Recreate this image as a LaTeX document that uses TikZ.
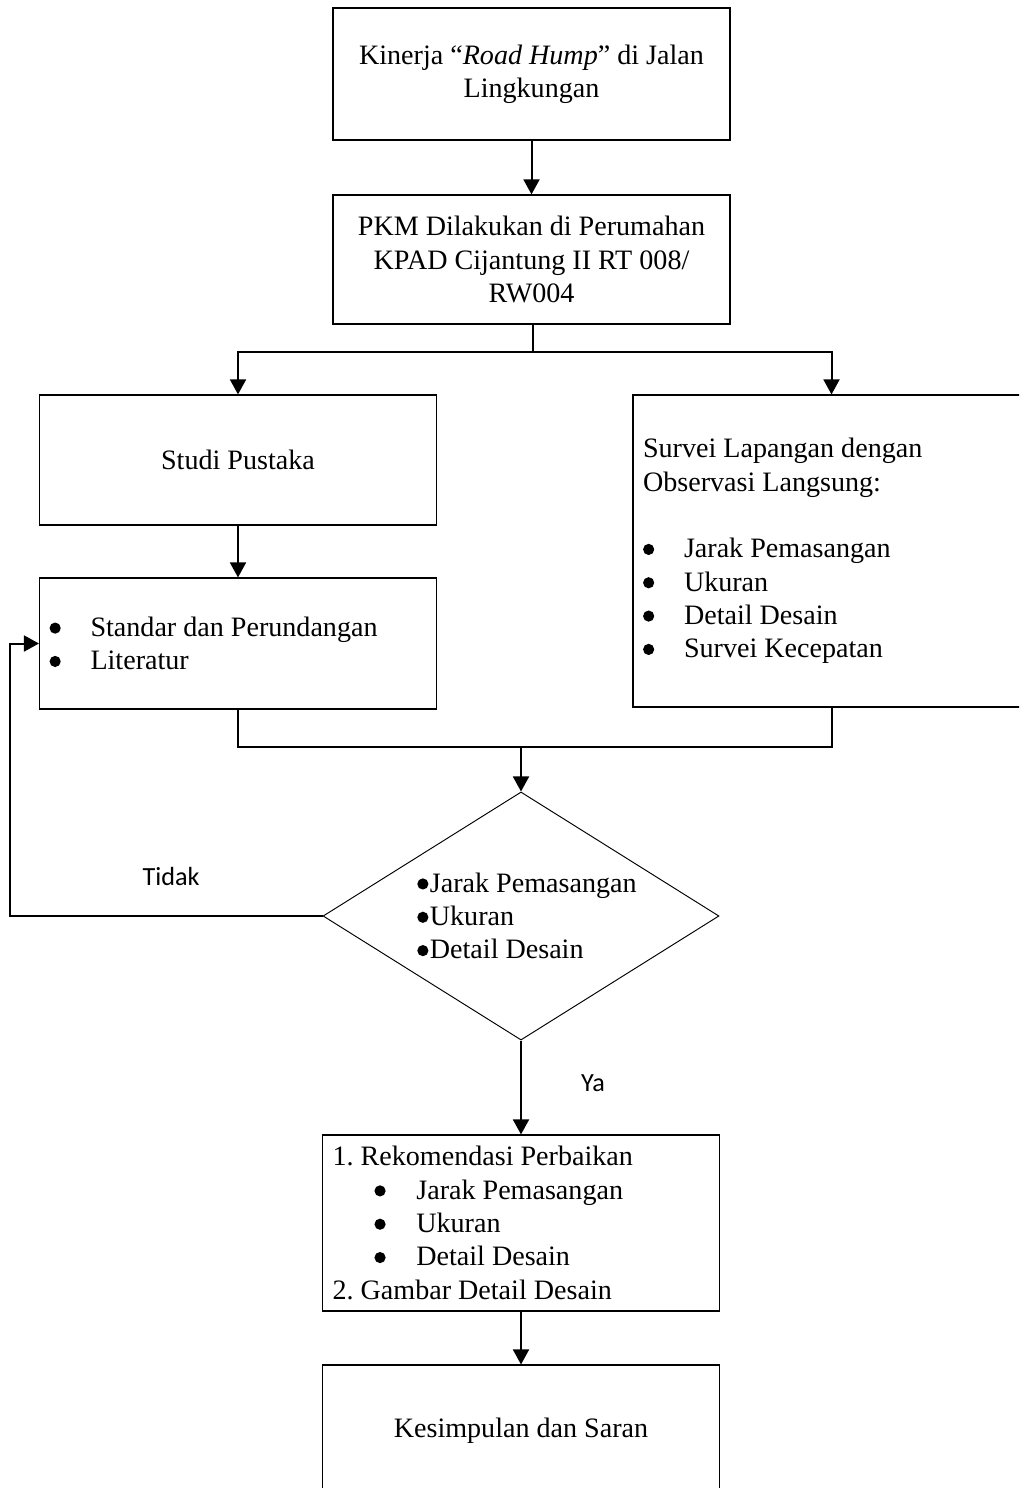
\documentclass[tikz,border=0pt]{standalone}
\usepackage{fontspec}
\setmainfont{Liberation Serif}
\newfontfamily\labelfont{Carlito}
\usetikzlibrary{arrows.meta,shapes.geometric}
\frenchspacing

% bullet lines inside the boxes
\newcommand{\titik}{\tikz[baseline=0pt]\fill (2.35pt,3.5pt) circle[radius=2.35pt];}
\newcommand{\butir}[1]{\makebox[17.2pt][l]{\titik}#1}
\newcommand{\subbutir}[1]{\hspace*{17.6pt}\makebox[17.6pt][l]{\titik}#1}
\newcommand{\cekbutir}[1]{\hspace*{5pt}\titik\hspace{0.6pt}#1}

\begin{document}
\begin{tikzpicture}[x=0.42pt,y=-0.42pt,
    kotak/.style={draw, line width=0.5pt, minimum width=166.7pt, text width=158.3pt,
        inner xsep=4.2pt, inner ysep=0pt, font=\fontsize{11.8}{14}\selectfont},
    keputusan/.style={draw, shape=diamond, line width=0.4pt, aspect=1.6,
        minimum width=166.3pt, minimum height=104.2pt, inner sep=0pt, align=flush left,
        font=\fontsize{11.8}{14}\selectfont},
    garis/.style={line width=0.84pt},
    panah/.style={garis, -{Triangle[length=6.3pt,width=6.7pt]}},
    ket/.style={font=\labelfont\fontsize{11}{13}\selectfont}]
    \useasboundingbox (0,0) rectangle (1019,1488);
    \clip (0,0) rectangle (1019,1488);

    % boxes
    \node[kotak, align=flush center, minimum height=55.4pt] (kinerja) at (531.5,74)
        {Kinerja “\emph{Road Hump}” di Jalan\\Lingkungan};
    \node[kotak, align=flush center, minimum height=54.2pt] (pkm) at (531.5,259.5)
        {PKM Dilakukan di Perumahan\\KPAD Cijantung II RT 008/\\RW004};
    \node[kotak, align=flush center, minimum height=54.6pt] (studi) at (238,460) {Studi Pustaka};
    \node[kotak, align=flush left, minimum height=55pt] (literatur) at (238,643.5)
        {\butir{Standar dan Perundangan}\\\butir{Literatur}};
    \node[kotak, align=flush left, minimum height=131pt] (survei) at (831.5,551)
        {Survei Lapangan dengan\\Observasi Langsung:\\[14pt]
         \butir{Jarak Pemasangan}\\\butir{Ukuran}\\\butir{Detail Desain}\\\butir{Survei Kecepatan}};
    \node[keputusan] (cek) at (521,916)
        {\cekbutir{Jarak Pemasangan}\\\cekbutir{Ukuran}\\\cekbutir{Detail Desain}};
    \node[kotak, align=flush left, minimum height=73.9pt] (rekom) at (521,1223)
        {1. Rekomendasi Perbaikan\\\subbutir{Jarak Pemasangan}\\\subbutir{Ukuran}\\
         \subbutir{Detail Desain}\\2. Gambar Detail Desain};
    \node[kotak, align=flush center, minimum height=55.4pt] (simpul) at (521,1431)
        {Kesimpulan dan Saran};

    % labels
    \node[ket] (tidak) at (171,876) {Tidak};
    \node[ket] (ya) at (593,1083) {Ya};

    % connectors
    \coordinate (cabang) at (533,352);
    \coordinate (gabung) at (521,747);
    \coordinate (kiri) at (10,0);
    \draw[panah] (kinerja) -- (pkm);
    \draw[garis] (pkm.south -| cabang) -- (cabang);
    \draw[panah] (cabang) -| (studi);
    \draw[panah] (cabang) -| (survei);
    \draw[panah] (studi) -- (literatur);
    \draw[garis] (literatur.south) |- (gabung);
    \draw[garis] (survei.south) |- (gabung);
    \draw[panah] (gabung) -- (cek.north);
    \draw[panah] (cek.west) -- (cek.west -| kiri) |- (literatur.west);
    \draw[panah] (cek.south) -- (rekom.north);
    \draw[panah] (rekom) -- (simpul);
\end{tikzpicture}
\end{document}
